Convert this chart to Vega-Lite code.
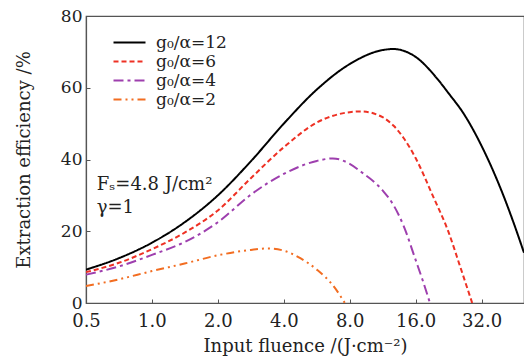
{
  "$schema": "https://vega.github.io/schema/vega-lite/v6.json",
  "autosize": {"type": "none"},
  "width": 438,
  "height": 287,
  "padding": {"left": 86, "top": 16, "right": 0, "bottom": 58},
  "background": "white",
  "config": {
    "font": "DejaVu Serif",
    "view": {"stroke": "#555555", "strokeWidth": 1.2},
    "axis": {"grid": false, "domainColor": "#555555", "tickColor": "#555555", "labelColor": "#222222", "titleColor": "#222222", "labelFont": "DejaVu Serif", "titleFont": "DejaVu Serif", "labelFontSize": 18, "titleFontSize": 18, "titleFontWeight": "normal", "tickSize": -4, "domainWidth": 1.2, "labelFlush": false}
  },
  "datasets": {
    "curves": [
      {"F": 0.5, "eta": 9.3, "series": "g₀/α=12"},
      {"F": 0.707, "eta": 12.5, "series": "g₀/α=12"},
      {"F": 1.0, "eta": 16.8, "series": "g₀/α=12"},
      {"F": 1.41, "eta": 22.5, "series": "g₀/α=12"},
      {"F": 2.0, "eta": 30, "series": "g₀/α=12"},
      {"F": 2.83, "eta": 39.5, "series": "g₀/α=12"},
      {"F": 4.0, "eta": 50, "series": "g₀/α=12"},
      {"F": 5.66, "eta": 59.5, "series": "g₀/α=12"},
      {"F": 8.0, "eta": 66.6, "series": "g₀/α=12"},
      {"F": 11.3, "eta": 70.5, "series": "g₀/α=12"},
      {"F": 12.7, "eta": 70.8, "series": "g₀/α=12"},
      {"F": 14.1, "eta": 70.3, "series": "g₀/α=12"},
      {"F": 16.0, "eta": 68.6, "series": "g₀/α=12"},
      {"F": 20.4, "eta": 62, "series": "g₀/α=12"},
      {"F": 22.6, "eta": 58.5, "series": "g₀/α=12"},
      {"F": 26.5, "eta": 52.8, "series": "g₀/α=12"},
      {"F": 32.0, "eta": 43.8, "series": "g₀/α=12"},
      {"F": 36.3, "eta": 36.6, "series": "g₀/α=12"},
      {"F": 40.3, "eta": 29.9, "series": "g₀/α=12"},
      {"F": 44.8, "eta": 22.4, "series": "g₀/α=12"},
      {"F": 50.0, "eta": 14, "series": "g₀/α=12"},

      {"F": 0.5, "eta": 8.6, "series": "g₀/α=6"},
      {"F": 0.707, "eta": 11.2, "series": "g₀/α=6"},
      {"F": 1.0, "eta": 15, "series": "g₀/α=6"},
      {"F": 1.41, "eta": 19.6, "series": "g₀/α=6"},
      {"F": 2.0, "eta": 25.8, "series": "g₀/α=6"},
      {"F": 2.83, "eta": 34.8, "series": "g₀/α=6"},
      {"F": 4.0, "eta": 43.4, "series": "g₀/α=6"},
      {"F": 5.66, "eta": 50.3, "series": "g₀/α=6"},
      {"F": 8.0, "eta": 53.2, "series": "g₀/α=6"},
      {"F": 9.0, "eta": 53.4, "series": "g₀/α=6"},
      {"F": 11.3, "eta": 51.8, "series": "g₀/α=6"},
      {"F": 12.7, "eta": 49.4, "series": "g₀/α=6"},
      {"F": 14.1, "eta": 46, "series": "g₀/α=6"},
      {"F": 16.0, "eta": 40.4, "series": "g₀/α=6"},
      {"F": 19.2, "eta": 29.8, "series": "g₀/α=6"},
      {"F": 22.6, "eta": 19.8, "series": "g₀/α=6"},
      {"F": 25.6, "eta": 10, "series": "g₀/α=6"},
      {"F": 29.0, "eta": 0, "series": "g₀/α=6"},

      {"F": 0.5, "eta": 7.9, "series": "g₀/α=4"},
      {"F": 0.707, "eta": 10.2, "series": "g₀/α=4"},
      {"F": 1.0, "eta": 13.4, "series": "g₀/α=4"},
      {"F": 1.41, "eta": 17, "series": "g₀/α=4"},
      {"F": 2.0, "eta": 22.5, "series": "g₀/α=4"},
      {"F": 2.83, "eta": 30.2, "series": "g₀/α=4"},
      {"F": 4.0, "eta": 36, "series": "g₀/α=4"},
      {"F": 5.66, "eta": 39.6, "series": "g₀/α=4"},
      {"F": 6.7, "eta": 40.3, "series": "g₀/α=4"},
      {"F": 8.0, "eta": 38.8, "series": "g₀/α=4"},
      {"F": 9.0, "eta": 36.6, "series": "g₀/α=4"},
      {"F": 11.3, "eta": 31.4, "series": "g₀/α=4"},
      {"F": 12.7, "eta": 27.2, "series": "g₀/α=4"},
      {"F": 14.1, "eta": 21.5, "series": "g₀/α=4"},
      {"F": 16.0, "eta": 12, "series": "g₀/α=4"},
      {"F": 17.3, "eta": 6, "series": "g₀/α=4"},
      {"F": 18.6, "eta": 0, "series": "g₀/α=4"},

      {"F": 0.5, "eta": 4.7, "series": "g₀/α=2"},
      {"F": 0.707, "eta": 6.6, "series": "g₀/α=2"},
      {"F": 1.0, "eta": 8.9, "series": "g₀/α=2"},
      {"F": 1.41, "eta": 11, "series": "g₀/α=2"},
      {"F": 2.0, "eta": 13.3, "series": "g₀/α=2"},
      {"F": 2.83, "eta": 14.8, "series": "g₀/α=2"},
      {"F": 3.4, "eta": 15.2, "series": "g₀/α=2"},
      {"F": 4.0, "eta": 14.6, "series": "g₀/α=2"},
      {"F": 4.76, "eta": 12.5, "series": "g₀/α=2"},
      {"F": 5.66, "eta": 9.3, "series": "g₀/α=2"},
      {"F": 6.73, "eta": 4.8, "series": "g₀/α=2"},
      {"F": 7.6, "eta": 0, "series": "g₀/α=2"}
    ],
    "notes": [
      {"F": 0.56, "eta": 31.5, "label": "Fₛ=4.8 J/cm²"},
      {"F": 0.56, "eta": 25.0, "label": "γ=1"}
    ]
  },
  "layer": [
    {
      "data": {"name": "curves"},
      "mark": {"type": "line", "strokeWidth": 2, "clip": true, "interpolate": "monotone"},
      "encoding": {
        "x": {"field": "F", "type": "quantitative",
          "scale": {"type": "log", "base": 2, "domain": [0.5, 50], "nice": false},
          "axis": {"values": [0.5, 1, 2, 4, 8, 16, 32], "format": ".1f", "title": "Input fluence /(J·cm⁻²)", "labelPadding": 13, "titlePadding": 7}},
        "y": {"field": "eta", "type": "quantitative",
          "scale": {"domain": [0, 80], "nice": false},
          "axis": {"values": [0, 20, 40, 60, 80], "title": "Extraction efficiency /%", "labelPadding": 8, "titlePadding": 27, "labelFontSize": 17}},
        "color": {"field": "series", "type": "nominal",
          "scale": {"domain": ["g₀/α=12", "g₀/α=6", "g₀/α=4", "g₀/α=2"], "range": ["#000000", "#ee3124", "#9e3fae", "#f26d21"]},
          "legend": {"title": null, "orient": "none", "legendX": 35, "legendY": 18, "symbolType": "M-3.2,0H3.2", "symbolSize": 100, "symbolStrokeWidth": 2, "labelFontSize": 17, "labelFont": "DejaVu Serif", "labelColor": "#222222", "rowPadding": 1, "labelOffset": 18, "padding": 0}},
        "strokeDash": {"field": "series", "type": "nominal",
          "scale": {"domain": ["g₀/α=12", "g₀/α=6", "g₀/α=4", "g₀/α=2"], "range": [[1, 0], [5, 3], [10, 4, 3, 4], [8, 4, 2, 4, 2, 4]]},
          "legend": {"title": null, "orient": "none", "legendX": 35, "legendY": 18, "symbolType": "M-3.2,0H3.2", "symbolSize": 100, "symbolStrokeWidth": 2, "labelFontSize": 17, "labelFont": "DejaVu Serif", "labelColor": "#222222", "rowPadding": 1, "labelOffset": 18, "padding": 0}}
      }
    },
    {
      "data": {"name": "notes"},
      "mark": {"type": "text", "align": "left", "baseline": "alphabetic", "fontSize": 18, "font": "DejaVu Serif", "color": "#222222"},
      "encoding": {
        "x": {"field": "F", "type": "quantitative"},
        "y": {"field": "eta", "type": "quantitative"},
        "text": {"field": "label"}
      }
    }
  ]
}
